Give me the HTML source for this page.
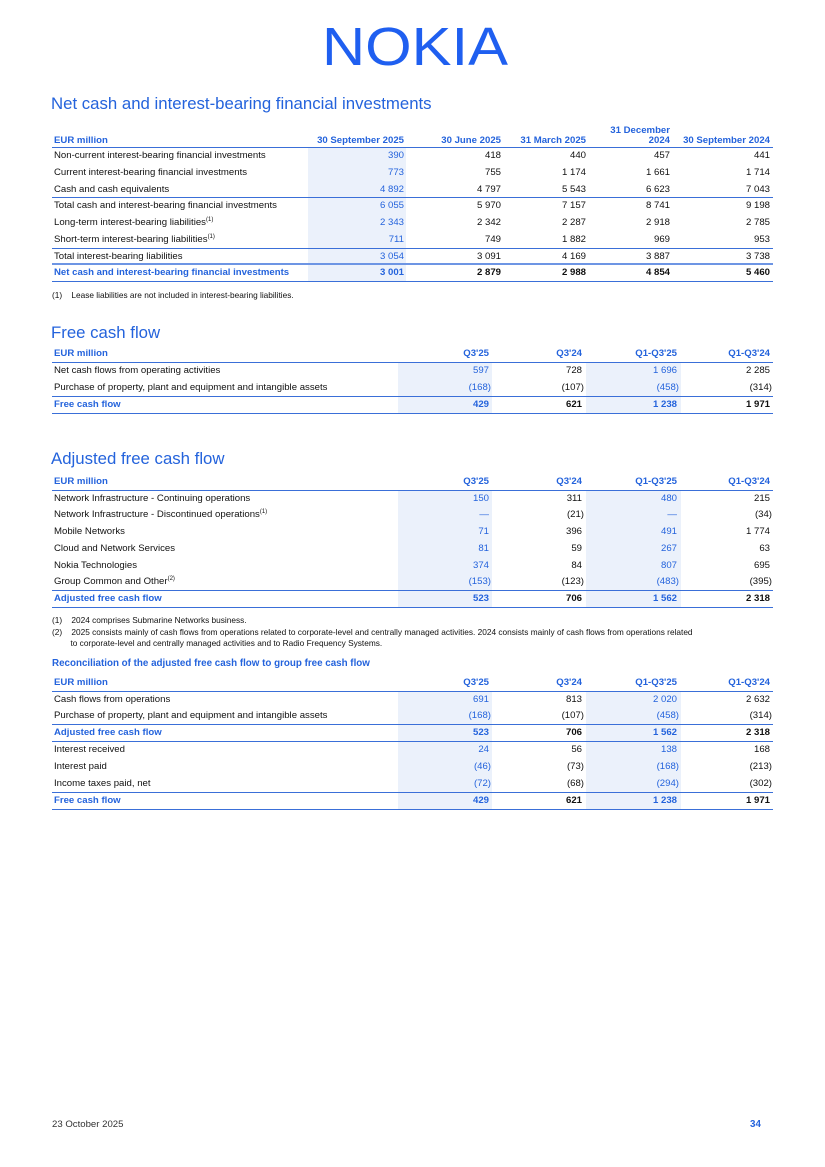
<!DOCTYPE html>
<html><head><meta charset="utf-8"><style>
body{margin:0;width:825px;height:1167px;background:#fff;position:relative;font-family:"Liberation Sans",sans-serif;color:#111;overflow:hidden}
.ab{position:absolute}
.h{position:absolute;left:51px;color:#2463dc;font-size:16.8px;font-weight:normal;white-space:nowrap}
.t{position:absolute;left:52px;width:721px}
.r{position:relative;box-sizing:border-box;height:16.75px;font-size:9.6px;line-height:16.7px;white-space:nowrap}
.r span{position:absolute}
.l{left:2px}
.b{color:#2463dc;font-weight:bold}
.bl{color:#2463dc}
.bot{border-bottom:1.2px solid #3a6fd8}
.hl{position:absolute;background:#ebf1fb}
.k{font-weight:bold}
sup{font-size:6px;vertical-align:4px;line-height:0}
.fn{position:absolute;left:52px;font-size:8.3px;white-space:nowrap}
</style></head><body>
<svg class="ab" style="left:318px;top:20px" width="196" height="50"><text x="4" y="45" font-family="Liberation Sans,sans-serif" font-size="54" fill="#1f5ff0" textLength="186" lengthAdjust="spacingAndGlyphs">NOKIA</text></svg>

<div class="h" style="top:94px">Net cash and interest-bearing financial investments</div>
<div class="t" style="top:126px">
<div class="hl" style="left:256px;width:98px;top:22px;height:134px"></div>
<div class="r bot b" style="height:22px;line-height:10px">
<span class="l" style="top:10px">EUR million</span><span style="right:369px;top:10px">30 September 2025</span><span style="right:272px;top:10px">30 June 2025</span><span style="right:187px;top:10px">31 March 2025</span><span style="right:103px;top:0px;text-align:right">31 December<br>2024</span><span style="right:3px;top:10px">30 September 2024</span></div>
<div class="r"><span class="l">Non-current interest-bearing financial investments</span><span class="bl" style="right:369px">390</span><span style="right:272px">418</span><span style="right:187px">440</span><span style="right:103px">457</span><span style="right:3px">441</span></div>
<div class="r"><span class="l">Current interest-bearing financial investments</span><span class="bl" style="right:369px">773</span><span style="right:272px">755</span><span style="right:187px">1 174</span><span style="right:103px">1 661</span><span style="right:3px">1 714</span></div>
<div class="r bot"><span class="l">Cash and cash equivalents</span><span class="bl" style="right:369px">4 892</span><span style="right:272px">4 797</span><span style="right:187px">5 543</span><span style="right:103px">6 623</span><span style="right:3px">7 043</span></div>
<div class="r"><span class="l">Total cash and interest-bearing financial investments</span><span class="bl" style="right:369px">6 055</span><span style="right:272px">5 970</span><span style="right:187px">7 157</span><span style="right:103px">8 741</span><span style="right:3px">9 198</span></div>
<div class="r"><span class="l">Long-term interest-bearing liabilities<sup>(1)</sup></span><span class="bl" style="right:369px">2 343</span><span style="right:272px">2 342</span><span style="right:187px">2 287</span><span style="right:103px">2 918</span><span style="right:3px">2 785</span></div>
<div class="r bot"><span class="l">Short-term interest-bearing liabilities<sup>(1)</sup></span><span class="bl" style="right:369px">711</span><span style="right:272px">749</span><span style="right:187px">1 882</span><span style="right:103px">969</span><span style="right:3px">953</span></div>
<div class="r" style="border-bottom:2px solid #6d95e4"><span class="l">Total interest-bearing liabilities</span><span class="bl" style="right:369px">3 054</span><span style="right:272px">3 091</span><span style="right:187px">4 169</span><span style="right:103px">3 887</span><span style="right:3px">3 738</span></div>
<div class="r bot k"><span class="l b">Net cash and interest-bearing financial investments</span><span class="b" style="right:369px">3 001</span><span style="right:272px">2 879</span><span style="right:187px">2 988</span><span style="right:103px">4 854</span><span style="right:3px">5 460</span></div>
</div>
<div class="fn" style="top:290px">(1)&nbsp;&nbsp;&nbsp; Lease liabilities are not included in interest-bearing liabilities.</div>

<div class="h" style="top:323px">Free cash flow</div>
<div class="t" style="top:346px">
<div class="hl" style="left:346px;width:94px;top:16px;height:51px"></div>
<div class="hl" style="left:534px;width:95px;top:16px;height:51px"></div>
<div class="r bot b" style="height:16.5px"><span class="l">EUR million</span><span style="right:284px">Q3'25</span><span style="right:191px">Q3'24</span><span style="right:96px">Q1-Q3'25</span><span style="right:3px">Q1-Q3'24</span></div>
<div class="r" style="height:17px"><span class="l">Net cash flows from operating activities</span><span class="bl" style="right:284px">597</span><span style="right:191px">728</span><span class="bl" style="right:96px">1 696</span><span style="right:3px">2 285</span></div>
<div class="r bot" style="height:17px"><span class="l">Purchase of property, plant and equipment and intangible assets</span><span class="bl" style="right:282px">(168)</span><span style="right:189px">(107)</span><span class="bl" style="right:94px">(458)</span><span style="right:1px">(314)</span></div>
<div class="r bot k" style="height:17px"><span class="l b">Free cash flow</span><span class="b" style="right:284px">429</span><span style="right:191px">621</span><span class="b" style="right:96px">1 238</span><span style="right:3px">1 971</span></div>
</div>

<div class="h" style="top:449px">Adjusted free cash flow</div>
<div class="t" style="top:474px">
<div class="hl" style="left:346px;width:94px;top:16px;height:117px"></div>
<div class="hl" style="left:534px;width:95px;top:16px;height:117px"></div>
<div class="r bot b" style="height:16.5px"><span class="l">EUR million</span><span style="right:284px">Q3'25</span><span style="right:191px">Q3'24</span><span style="right:96px">Q1-Q3'25</span><span style="right:3px">Q1-Q3'24</span></div>
<div class="r"><span class="l">Network Infrastructure - Continuing operations</span><span class="bl" style="right:284px">150</span><span style="right:191px">311</span><span class="bl" style="right:96px">480</span><span style="right:3px">215</span></div>
<div class="r"><span class="l">Network Infrastructure - Discontinued operations<sup>(1)</sup></span><span class="bl" style="right:284px">—</span><span style="right:189px">(21)</span><span class="bl" style="right:96px">—</span><span style="right:1px">(34)</span></div>
<div class="r"><span class="l">Mobile Networks</span><span class="bl" style="right:284px">71</span><span style="right:191px">396</span><span class="bl" style="right:96px">491</span><span style="right:3px">1 774</span></div>
<div class="r"><span class="l">Cloud and Network Services</span><span class="bl" style="right:284px">81</span><span style="right:191px">59</span><span class="bl" style="right:96px">267</span><span style="right:3px">63</span></div>
<div class="r"><span class="l">Nokia Technologies</span><span class="bl" style="right:284px">374</span><span style="right:191px">84</span><span class="bl" style="right:96px">807</span><span style="right:3px">695</span></div>
<div class="r bot"><span class="l">Group Common and Other<sup>(2)</sup></span><span class="bl" style="right:282px">(153)</span><span style="right:189px">(123)</span><span class="bl" style="right:94px">(483)</span><span style="right:1px">(395)</span></div>
<div class="r bot k"><span class="l b">Adjusted free cash flow</span><span class="b" style="right:284px">523</span><span style="right:191px">706</span><span class="b" style="right:96px">1 562</span><span style="right:3px">2 318</span></div>
</div>
<div class="fn" style="top:615px">(1)&nbsp;&nbsp;&nbsp; 2024 comprises Submarine Networks business.</div>
<div class="fn" style="top:627px;line-height:10.5px">(2)&nbsp;&nbsp;&nbsp; 2025 consists mainly of cash flows from operations related to corporate-level and centrally managed activities. 2024 consists mainly of cash flows from operations related<br>&nbsp;&nbsp;&nbsp;&nbsp;&nbsp;&nbsp;&nbsp;&nbsp;to corporate-level and centrally managed activities and to Radio Frequency Systems.</div>

<div class="ab b" style="left:52px;top:658px;font-size:9.8px">Reconciliation of the adjusted free cash flow to group free cash flow</div>
<div class="t" style="top:675px">
<div class="hl" style="left:346px;width:94px;top:16px;height:118px"></div>
<div class="hl" style="left:534px;width:95px;top:16px;height:118px"></div>
<div class="r bot b" style="height:16.5px"><span class="l">EUR million</span><span style="right:284px">Q3'25</span><span style="right:191px">Q3'24</span><span style="right:96px">Q1-Q3'25</span><span style="right:3px">Q1-Q3'24</span></div>
<div class="r" style="height:16.9px"><span class="l">Cash flows from operations</span><span class="bl" style="right:284px">691</span><span style="right:191px">813</span><span class="bl" style="right:96px">2 020</span><span style="right:3px">2 632</span></div>
<div class="r bot" style="height:16.9px"><span class="l">Purchase of property, plant and equipment and intangible assets</span><span class="bl" style="right:282px">(168)</span><span style="right:189px">(107)</span><span class="bl" style="right:94px">(458)</span><span style="right:1px">(314)</span></div>
<div class="r bot k" style="height:16.9px"><span class="l b">Adjusted free cash flow</span><span class="b" style="right:284px">523</span><span style="right:191px">706</span><span class="b" style="right:96px">1 562</span><span style="right:3px">2 318</span></div>
<div class="r" style="height:16.9px"><span class="l">Interest received</span><span class="bl" style="right:284px">24</span><span style="right:191px">56</span><span class="bl" style="right:96px">138</span><span style="right:3px">168</span></div>
<div class="r" style="height:16.9px"><span class="l">Interest paid</span><span class="bl" style="right:282px">(46)</span><span style="right:189px">(73)</span><span class="bl" style="right:94px">(168)</span><span style="right:1px">(213)</span></div>
<div class="r bot" style="height:16.9px"><span class="l">Income taxes paid, net</span><span class="bl" style="right:282px">(72)</span><span style="right:189px">(68)</span><span class="bl" style="right:94px">(294)</span><span style="right:1px">(302)</span></div>
<div class="r bot k" style="height:16.9px"><span class="l b">Free cash flow</span><span class="b" style="right:284px">429</span><span style="right:191px">621</span><span class="b" style="right:96px">1 238</span><span style="right:3px">1 971</span></div>
</div>

<div class="ab" style="left:52px;top:1119px;font-size:9.6px;color:#333">23 October 2025</div>
<div class="ab b" style="left:750px;top:1119px;font-size:9.8px">34</div>
</body></html>
